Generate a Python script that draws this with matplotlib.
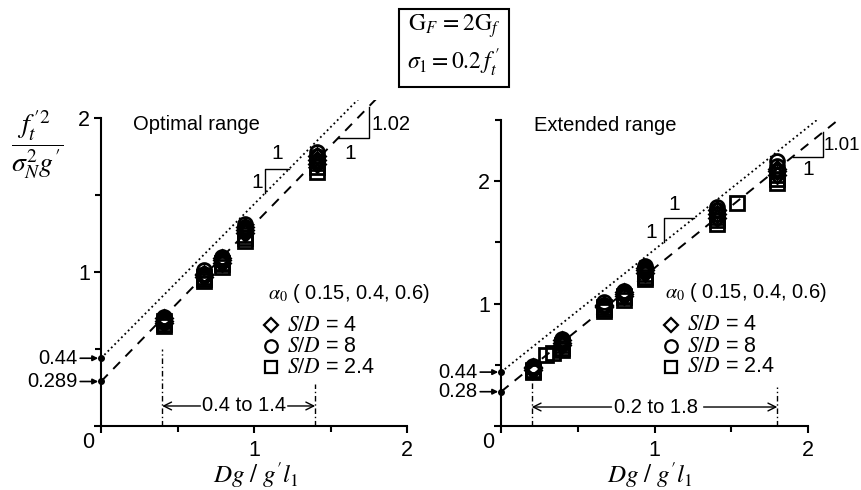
import matplotlib
matplotlib.use('Agg')
import matplotlib.pyplot as plt
from matplotlib.patches import Rectangle

plt.rcParams['font.family'] = ['Liberation Sans', 'DejaVu Sans']
plt.rcParams['mathtext.fontset'] = 'stix'

# ---------------- data ----------------
alphas = [0.15, 0.4, 0.6]

# Optimal range panel: rows = alpha (0.15, 0.4, 0.6), cols = x positions
opt_x = [0.41, 0.67, 0.79, 0.94, 1.41]
opt_sd4 = [[0.67, 0.97, 1.06, 1.25, 1.70],
           [0.68, 0.98, 1.08, 1.27, 1.73],
           [0.70, 0.99, 1.09, 1.29, 1.75]]
opt_sd8 = [[0.68, 0.98, 1.08, 1.27, 1.72],
           [0.70, 0.99, 1.09, 1.29, 1.75],
           [0.71, 1.01, 1.10, 1.31, 1.78]]
opt_sd24 = [[0.65, 0.94, 1.03, 1.20, 1.65],
            [0.66, 0.955, 1.05, 1.22, 1.68],
            [0.68, 0.97, 1.06, 1.24, 1.71]]

# Extended range panel
ext_x = [0.21, 0.40, 0.67, 0.80, 0.94, 1.41, 1.80]
ext_sd4 = [[0.46, 0.66, 0.97, 1.06, 1.25, 1.70, 2.05],
           [0.47, 0.68, 0.98, 1.08, 1.27, 1.73, 2.08],
           [0.48, 0.70, 0.99, 1.09, 1.29, 1.76, 2.10]]
ext_sd8 = [[0.47, 0.67, 0.98, 1.08, 1.27, 1.73, 2.08],
           [0.48, 0.69, 0.99, 1.09, 1.29, 1.76, 2.12],
           [0.49, 0.71, 1.01, 1.10, 1.31, 1.79, 2.16]]
ext_sd24 = [[0.44, 0.62, 0.94, 1.03, 1.20, 1.65, 1.98],
            [0.45, 0.64, 0.955, 1.05, 1.22, 1.68, 2.02],
            [0.46, 0.66, 0.97, 1.06, 1.24, 1.71, 2.05]]
ext_sd24_extra_x = [0.29, 0.34, 1.54]
ext_sd24_extra_y = [0.58, 0.60, 1.82]

# fitted lines: (intercept, slope) for dotted and dashed
opt_dotted = (0.44, 1.0)
opt_dashed = (0.289, 1.02)
ext_dotted = (0.44, 1.0)
ext_dashed = (0.28, 1.01)

opt_range = (0.4, 1.4)
ext_range = (0.2, 1.8)

sd_labels = ['4', '8', '2.4']
sd_markers = ['D', 'o', 's']

# ---------------- figure ----------------
fig = plt.figure(figsize=(8.61, 4.9), dpi=100)
W, H = 861.0, 490.0

axL = fig.add_axes([101 / W, 64 / H, 2.3 * 153 / W, 2.12 * 154 / H])
axR = fig.add_axes([501 / W, 64 / H, 2.3 * 153.5 / W, 2.5 * 122.5 / H])

ms = 10
mew = 2.0


def style_axes(ax, ytop, yminor):
    ax.patch.set_visible(False)
    for s in ['top', 'right']:
        ax.spines[s].set_visible(False)
    for s in ['left', 'bottom']:
        ax.spines[s].set_linewidth(1.5)
    ax.spines['bottom'].set_bounds(0, 2)
    ax.spines['left'].set_bounds(0, yminor[-1] if yminor[-1] > 2 else 2)
    ax.set_xlim(0, 2.3)
    ax.set_ylim(0, ytop)
    ax.set_xticks([0, 1, 2])
    ax.set_xticklabels(['', '1', '2'])
    ax.set_xticks([0.5, 1.5], minor=True)
    ax.set_yticks([0, 1, 2])
    ax.set_yticklabels(['', '1', '2'])
    ax.set_yticks(yminor, minor=True)
    ax.tick_params(which='major', direction='out', length=5, width=1.5,
                   labelsize=15.5)
    ax.tick_params(which='minor', direction='out', length=4, width=1.5)
    ax.tick_params(axis='x', which='major', pad=5)
    ax.tick_params(axis='y', which='major', pad=3)
    ax.annotate('0', xy=(0, 0), xytext=(-9, -12), textcoords='offset points',
                ha='center', va='center', fontsize=15.5)


def draw_panel(ax, xs, sets, dotted, dashed, rng, rng_tops, arrow_y, rng_text_x,
               rng_text_l, rng_text_r):
    # data
    for rows, m in zip(sets, sd_markers):
        for row in rows:
            ax.plot(xs, row, ls='none', marker=m,
                    ms=ms * (0.8 if m == 'D' else 1.0),
                    mfc='none', mec='k', mew=mew, zorder=3)
    # fit lines
    xl = [0, 2.3]
    b, s = dotted
    ax.plot(xl, [b + s * x for x in xl], ls=':', color='k', lw=1.3, zorder=2)
    b, s = dashed
    ax.plot(xl, [b + s * x for x in xl], color='k', lw=1.4, dashes=(5, 4),
            zorder=2)
    # intercept dots
    ax.plot([0, 0], [dotted[0], dashed[0]], 'o', ms=4, color='k',
            clip_on=False, zorder=4)
    # range lines
    for xv, yt in zip(rng, rng_tops):
        ax.plot([xv, xv], [0, yt], color='k', lw=1.0, dashes=(4, 2, 1, 2))
    ax.text(rng_text_x, arrow_y, '%g to %g' % rng, ha='center', va='center',
            fontsize=14.5)
    ax.annotate('', xy=(rng[0], arrow_y), xytext=(rng_text_l, arrow_y),
                arrowprops=dict(arrowstyle='->', color='k', lw=1.0,
                                shrinkA=0, shrinkB=0, mutation_scale=14))
    ax.annotate('', xy=(rng[1], arrow_y), xytext=(rng_text_r, arrow_y),
                arrowprops=dict(arrowstyle='->', color='k', lw=1.0,
                                shrinkA=0, shrinkB=0, mutation_scale=14))


def intercept_labels(ax, dotted, dashed, dash_lab):
    for b, lab in [(dotted[0], '%g' % dotted[0]), (dashed[0], dash_lab)]:
        ax.annotate(lab, xy=(0, b), xytext=(-17, 0), textcoords='offset points',
                    ha='right', va='center', fontsize=14.5,
                    arrowprops=dict(arrowstyle='-|>', color='k', lw=1.2,
                                    shrinkA=0, shrinkB=2, mutation_scale=8),
                    annotation_clip=False)


def slope_triangles(ax, dotted, dashed, a, h, bpos, w, dlab, labs, dsize):
    # dotted triangle (above-left of line)
    b0, s0 = dotted
    y0 = b0 + s0 * a
    y1 = y0 + h
    x1 = (y1 - b0) / s0
    ax.plot([a, a, x1], [y0, y1, y1], color='k', lw=1.0, clip_on=False)
    # dashed triangle (below-right of line)
    b1, s1 = dashed
    yb = b1 + s1 * bpos
    yt = b1 + s1 * (bpos + w)
    ax.plot([bpos, bpos + w, bpos + w], [yb, yb, yt], color='k', lw=1.0,
            clip_on=False)
    (tx1, ty1), (tx2, ty2), (tx3, ty3), (tx4, ty4) = labs
    ax.text(tx1, ty1, '1', ha='center', va='center', fontsize=15)
    ax.text(tx2, ty2, '1', ha='center', va='center', fontsize=15)
    ax.text(tx3, ty3, dlab, ha='left', va='center', fontsize=dsize,
            clip_on=False)
    ax.text(tx4, ty4, '1', ha='center', va='center', fontsize=15)


def legend(ax, tx, ty, mx, my, lx):
    ax.text(tx, ty, r'$\alpha_0$ ( ' + ', '.join('%g' % a for a in alphas) + ')',
            transform=ax.transAxes, ha='left', va='center', fontsize=14.5)
    for i, (m, lab) in enumerate(zip(sd_markers, sd_labels)):
        ax.plot([mx], [my[i]], transform=ax.transAxes, marker=m, ls='none',
                ms=9 * (0.8 if m == 'D' else 1.0), mfc='none', mec='k',
                mew=1.6, clip_on=False)
        ax.text(lx, my[i], r'$S/D$ = ' + lab, transform=ax.transAxes,
                ha='left', va='center', fontsize=15.5)


# ---- left panel ----
style_axes(axL, 2.12, [0.5, 1.5])
draw_panel(axL, opt_x, [opt_sd4, opt_sd8, opt_sd24], opt_dotted, opt_dashed,
           opt_range, [0.5, 0.27], 0.13, 0.935, 0.65, 1.22)
intercept_labels(axL, opt_dotted, opt_dashed, '0.289')
slope_triangles(axL, opt_dotted, opt_dashed, 1.07, 0.16, 1.55, 0.2, '1.02',
                [(1.15, 1.77), (1.02, 1.58), (1.77, 1.955), (1.63, 1.77)],
                14.5)
axL.text(0.21, 1.955, 'Optimal range', ha='left', va='center', fontsize=14.5)
legend(axL, (268 - 101) / 351.9, (426 - 293) / 326.5, (271 - 101) / 351.9,
       [(426 - 325) / 326.5, (426 - 346) / 326.5, (426 - 367) / 326.5],
       (287 - 101) / 351.9)

# ---- right panel ----
style_axes(axR, 2.5, [0.5, 1.5, 2.5])
draw_panel(axR, ext_x, [ext_sd4, ext_sd8, ext_sd24], ext_dotted, ext_dashed,
           ext_range, [0.39, 0.32], 0.155, 1.01, 0.72, 1.32)
axR.plot(ext_sd24_extra_x, ext_sd24_extra_y, ls='none', marker='s', ms=ms,
         mfc='none', mec='k', mew=mew, zorder=3)
intercept_labels(axR, ext_dotted, ext_dashed, '0.28')
slope_triangles(axR, ext_dotted, ext_dashed, 1.06, 0.2, 1.9, 0.2, '1.01',
                [(1.13, 1.81), (0.98, 1.58), (2.105, 2.29), (2.0, 2.09)],
                13.5)
axR.text(0.215, 2.457, 'Extended range', ha='left', va='center', fontsize=14.5)
legend(axR, (665 - 501) / 353.0, (426 - 293) / 306.25, (671 - 501) / 353.0,
       [(426 - 325) / 306.25, (426 - 346) / 306.25, (426 - 367) / 306.25],
       (687 - 501) / 353.0)

# ---- axis labels ----
fig.text(37 / W, 1 - 145 / H, r'$\dfrac{f_t^{\,\prime 2}}{\sigma_N^2 g^{\prime}}$',
         ha='center', va='center', fontsize=20)
fig.text(256 / W, 1 - 483 / H, r"$Dg\ /\ g^{\prime}l_1$", ha='center',
         va='baseline', fontsize=18)
fig.text(650 / W, 1 - 483 / H, r"$Dg\ /\ g^{\prime}l_1$", ha='center',
         va='baseline', fontsize=18)

# ---- top box ----
fig.patches.append(Rectangle((399 / W, 1 - 87 / H), 110 / W, 78 / H,
                             transform=fig.transFigure, fill=False,
                             lw=1.5, ec='k'))
fig.text(454 / W, 1 - 26 / H, r'$\mathrm{G}_F\, = 2\mathrm{G}_f$', ha='center',
         va='center', fontsize=17)
fig.text(454 / W, 1 - 63 / H, r'$\sigma_1 = 0.2\,f_t^{\,\prime}$', ha='center',
         va='center', fontsize=17)

fig.savefig('out.png', dpi=100)
